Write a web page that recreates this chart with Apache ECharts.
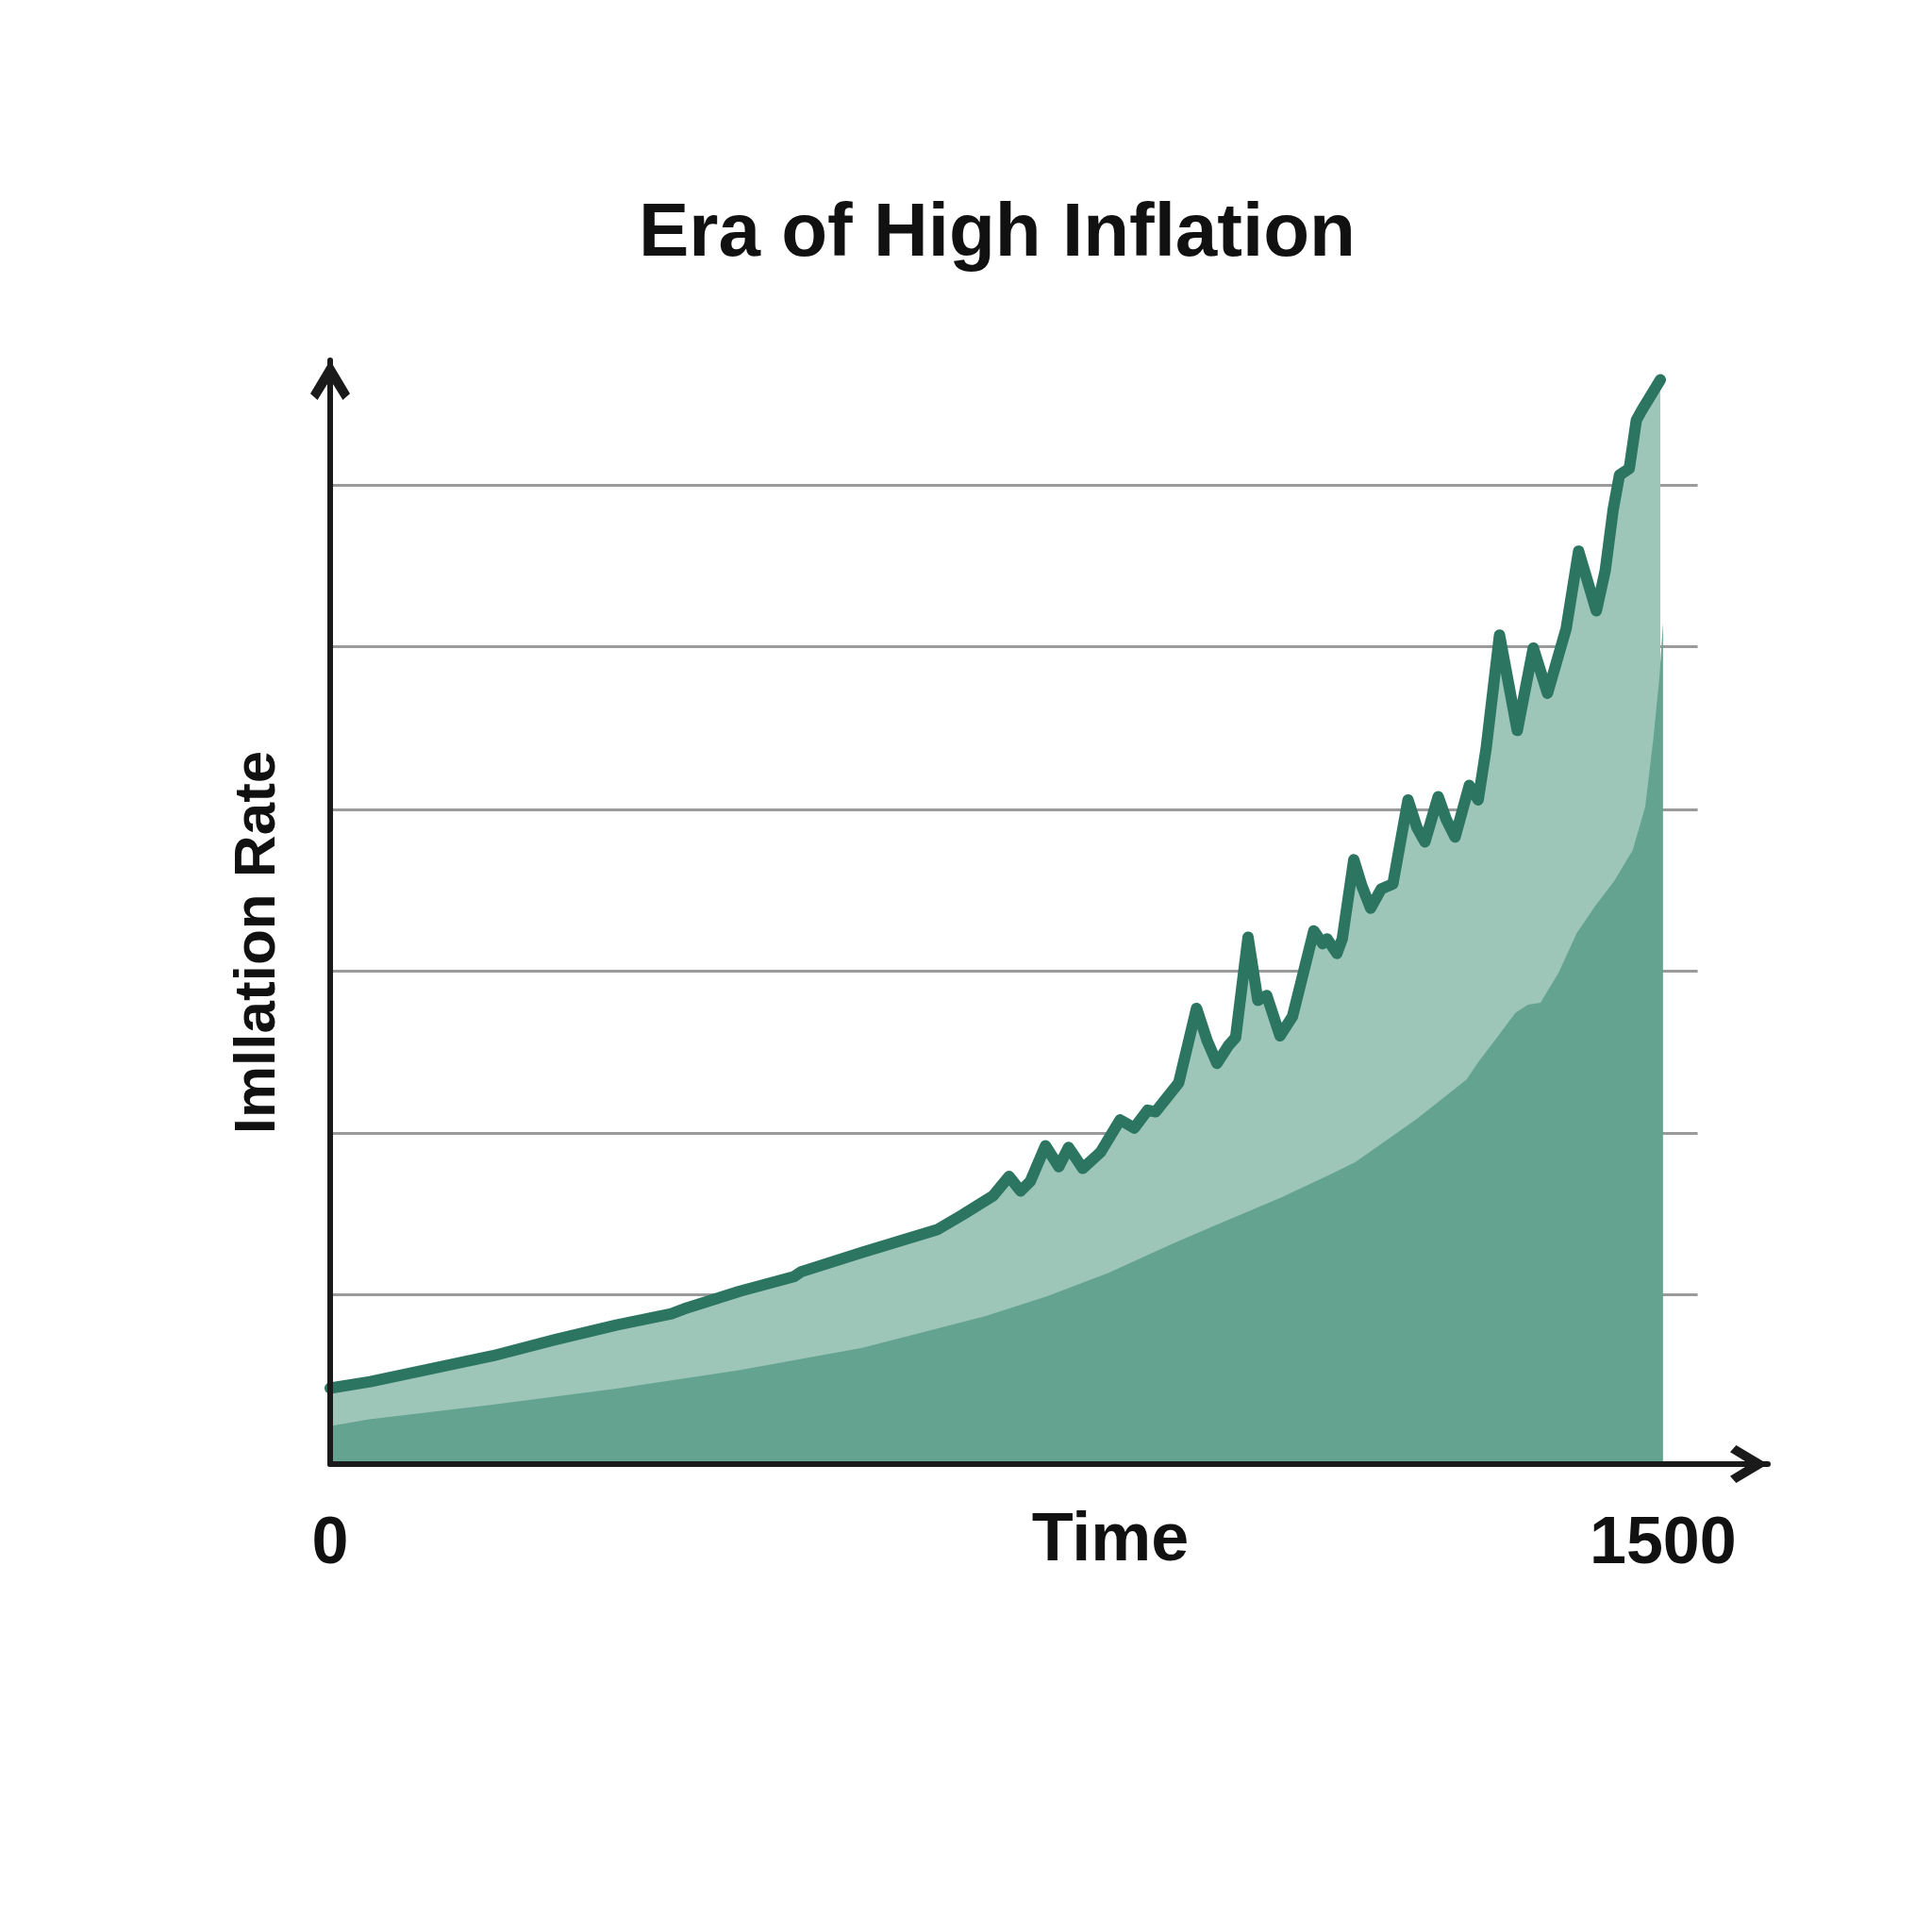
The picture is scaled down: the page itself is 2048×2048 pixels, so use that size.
<!DOCTYPE html>
<html>
<head>
<meta charset="utf-8">
<script src="https://cdn.jsdelivr.net/npm/echarts@6/dist/echarts.min.js"></script>
<style>
  html, body { margin: 0; padding: 0; background: #ffffff; }
  #chart { width: 2048px; height: 2048px; }
</style>
</head>
<body>
<div id="chart"></div>
<script>
// ---- Data ----
const chartTitle = 'Era of High Inflation';
const xName = 'Time';
const yName = 'Imllation Rate';
const xTickLabels = [0, 1500];

// Upper series (line + light area): [time, rate]
const inflationLine = [
  [0, 0.47], [45, 0.51], [114, 0.59], [183, 0.67], [253, 0.77], [322, 0.86],
  [384, 0.93], [398, 0.96], [461, 1.07], [522, 1.16], [530, 1.19], [599, 1.31],
  [683, 1.45], [711, 1.54], [746, 1.66], [764, 1.78], [777, 1.69], [788, 1.75],
  [805, 1.97], [820, 1.84], [831, 1.96], [847, 1.83], [867, 1.93], [889, 2.13],
  [905, 2.08], [920, 2.19], [929, 2.18], [955, 2.36], [975, 2.82], [987, 2.62],
  [998, 2.48], [1011, 2.59], [1019, 2.64], [1033, 3.26], [1044, 2.87], [1054, 2.90],
  [1069, 2.65], [1083, 2.77], [1093, 2.99], [1107, 3.30], [1117, 3.22], [1122, 3.25],
  [1133, 3.16], [1139, 3.25], [1152, 3.74], [1161, 3.58], [1171, 3.44], [1183, 3.56],
  [1196, 3.59], [1213, 4.11], [1223, 3.94], [1232, 3.85], [1247, 4.13], [1256, 3.99],
  [1266, 3.88], [1282, 4.20], [1292, 4.11], [1301, 4.43], [1316, 5.13], [1336, 4.54],
  [1354, 5.05], [1370, 4.77], [1380, 4.96], [1391, 5.17], [1405, 5.65], [1425, 5.28],
  [1435, 5.53], [1444, 5.91], [1451, 6.12], [1462, 6.16], [1470, 6.46], [1476, 6.52],
  [1497, 6.71]
];

// Lower series (dark area only): [time, rate]
const baseArea = [
  [0, 0.235], [44, 0.277], [183, 0.368], [322, 0.467], [460, 0.581], [599, 0.719],
  [738, 0.917], [807, 1.039], [876, 1.184], [946, 1.359], [994, 1.473], [1070, 1.649],
  [1126, 1.794], [1154, 1.870], [1223, 2.137], [1279, 2.381], [1292, 2.487], [1313, 2.639],
  [1334, 2.793], [1348, 2.843], [1362, 2.855], [1382, 3.036], [1403, 3.287], [1424, 3.456],
  [1445, 3.608], [1466, 3.800], [1480, 4.069], [1489, 4.483], [1496, 4.869], [1500, 5.207]
];

// Horizontal guide lines (rate values)
const gridValues = [1.05, 2.05, 3.05, 4.05, 5.06, 6.06];
const gridLineEnd = 1539;

// ---- Chart ----
const chevron = 'path://M50 0 L100 84 L82 100 L50 48 L18 100 L0 84 Z';
const axisColor = '#1a1a1a';

const chart = echarts.init(document.getElementById('chart'), null, { renderer: 'canvas' });
chart.setOption({
  animation: false,
  backgroundColor: '#ffffff',
  title: {
    text: chartTitle,
    left: 672,
    top: 204,
    textStyle: { fontFamily: 'Liberation Sans', fontWeight: 'bold', fontSize: 80, color: '#111111' }
  },
  grid: { left: 350, right: 174, top: 382, bottom: 496, containLabel: false },
  xAxis: {
    type: 'value',
    min: 0,
    max: 1618,
    interval: 1500,
    z: 10,
    name: xName,
    nameLocation: 'middle',
    nameGap: 46,
    nameMoveOverlap: false,
    nameTextStyle: {
      fontFamily: 'Liberation Sans', fontWeight: 'bold', fontSize: 72, color: '#111111',
      padding: [0, 0, 0, 130]
    },
    axisLine: {
      show: true,
      symbol: ['none', chevron],
      symbolSize: [42, 40],
      symbolOffset: [0, -20],
      lineStyle: { color: axisColor, width: 6 }
    },
    axisTick: { show: false },
    splitLine: { show: false },
    axisLabel: {
      show: true,
      margin: 51,
      fontFamily: 'Liberation Sans', fontWeight: 'bold', fontSize: 70, color: '#111111',
      formatter: function (v) { return xTickLabels.indexOf(v) >= 0 ? String(v) : ''; }
    }
  },
  yAxis: {
    type: 'value',
    min: 0,
    max: 6.83,
    z: 10,
    name: yName,
    nameLocation: 'middle',
    nameRotate: 90,
    nameGap: 45,
    nameMoveOverlap: false,
    nameTextStyle: {
      fontFamily: 'Liberation Sans', fontWeight: 'bold', fontSize: 62, color: '#111111',
      padding: [0, 64, 0, 0]
    },
    axisLine: {
      show: true,
      symbol: ['none', chevron],
      symbolSize: [42, 42],
      symbolOffset: [0, -21],
      lineStyle: { color: axisColor, width: 6 }
    },
    axisTick: { show: false },
    axisLabel: { show: false },
    splitLine: { show: false }
  },
  series: [
    {
      name: 'Inflation',
      type: 'line',
      z: 2,
      data: inflationLine,
      symbol: 'none',
      smooth: false,
      lineStyle: { color: '#2b7561', width: 12, cap: 'round', join: 'round' },
      areaStyle: { color: '#9dc6b8', opacity: 1 },
      markLine: {
        silent: true,
        z: 1,
        symbol: ['none', 'none'],
        label: { show: false },
        lineStyle: { color: '#9a9a9a', width: 3, type: 'solid' },
        emphasis: { disabled: true },
        data: gridValues.map(function (g) { return [{ coord: [0, g] }, { coord: [gridLineEnd, g] }]; })
      }
    },
    {
      name: 'Base',
      type: 'line',
      z: 3,
      data: baseArea,
      symbol: 'none',
      smooth: false,
      lineStyle: { width: 0, opacity: 0 },
      areaStyle: { color: '#65a391', opacity: 1 }
    }
  ]
});
</script>
</body>
</html>
